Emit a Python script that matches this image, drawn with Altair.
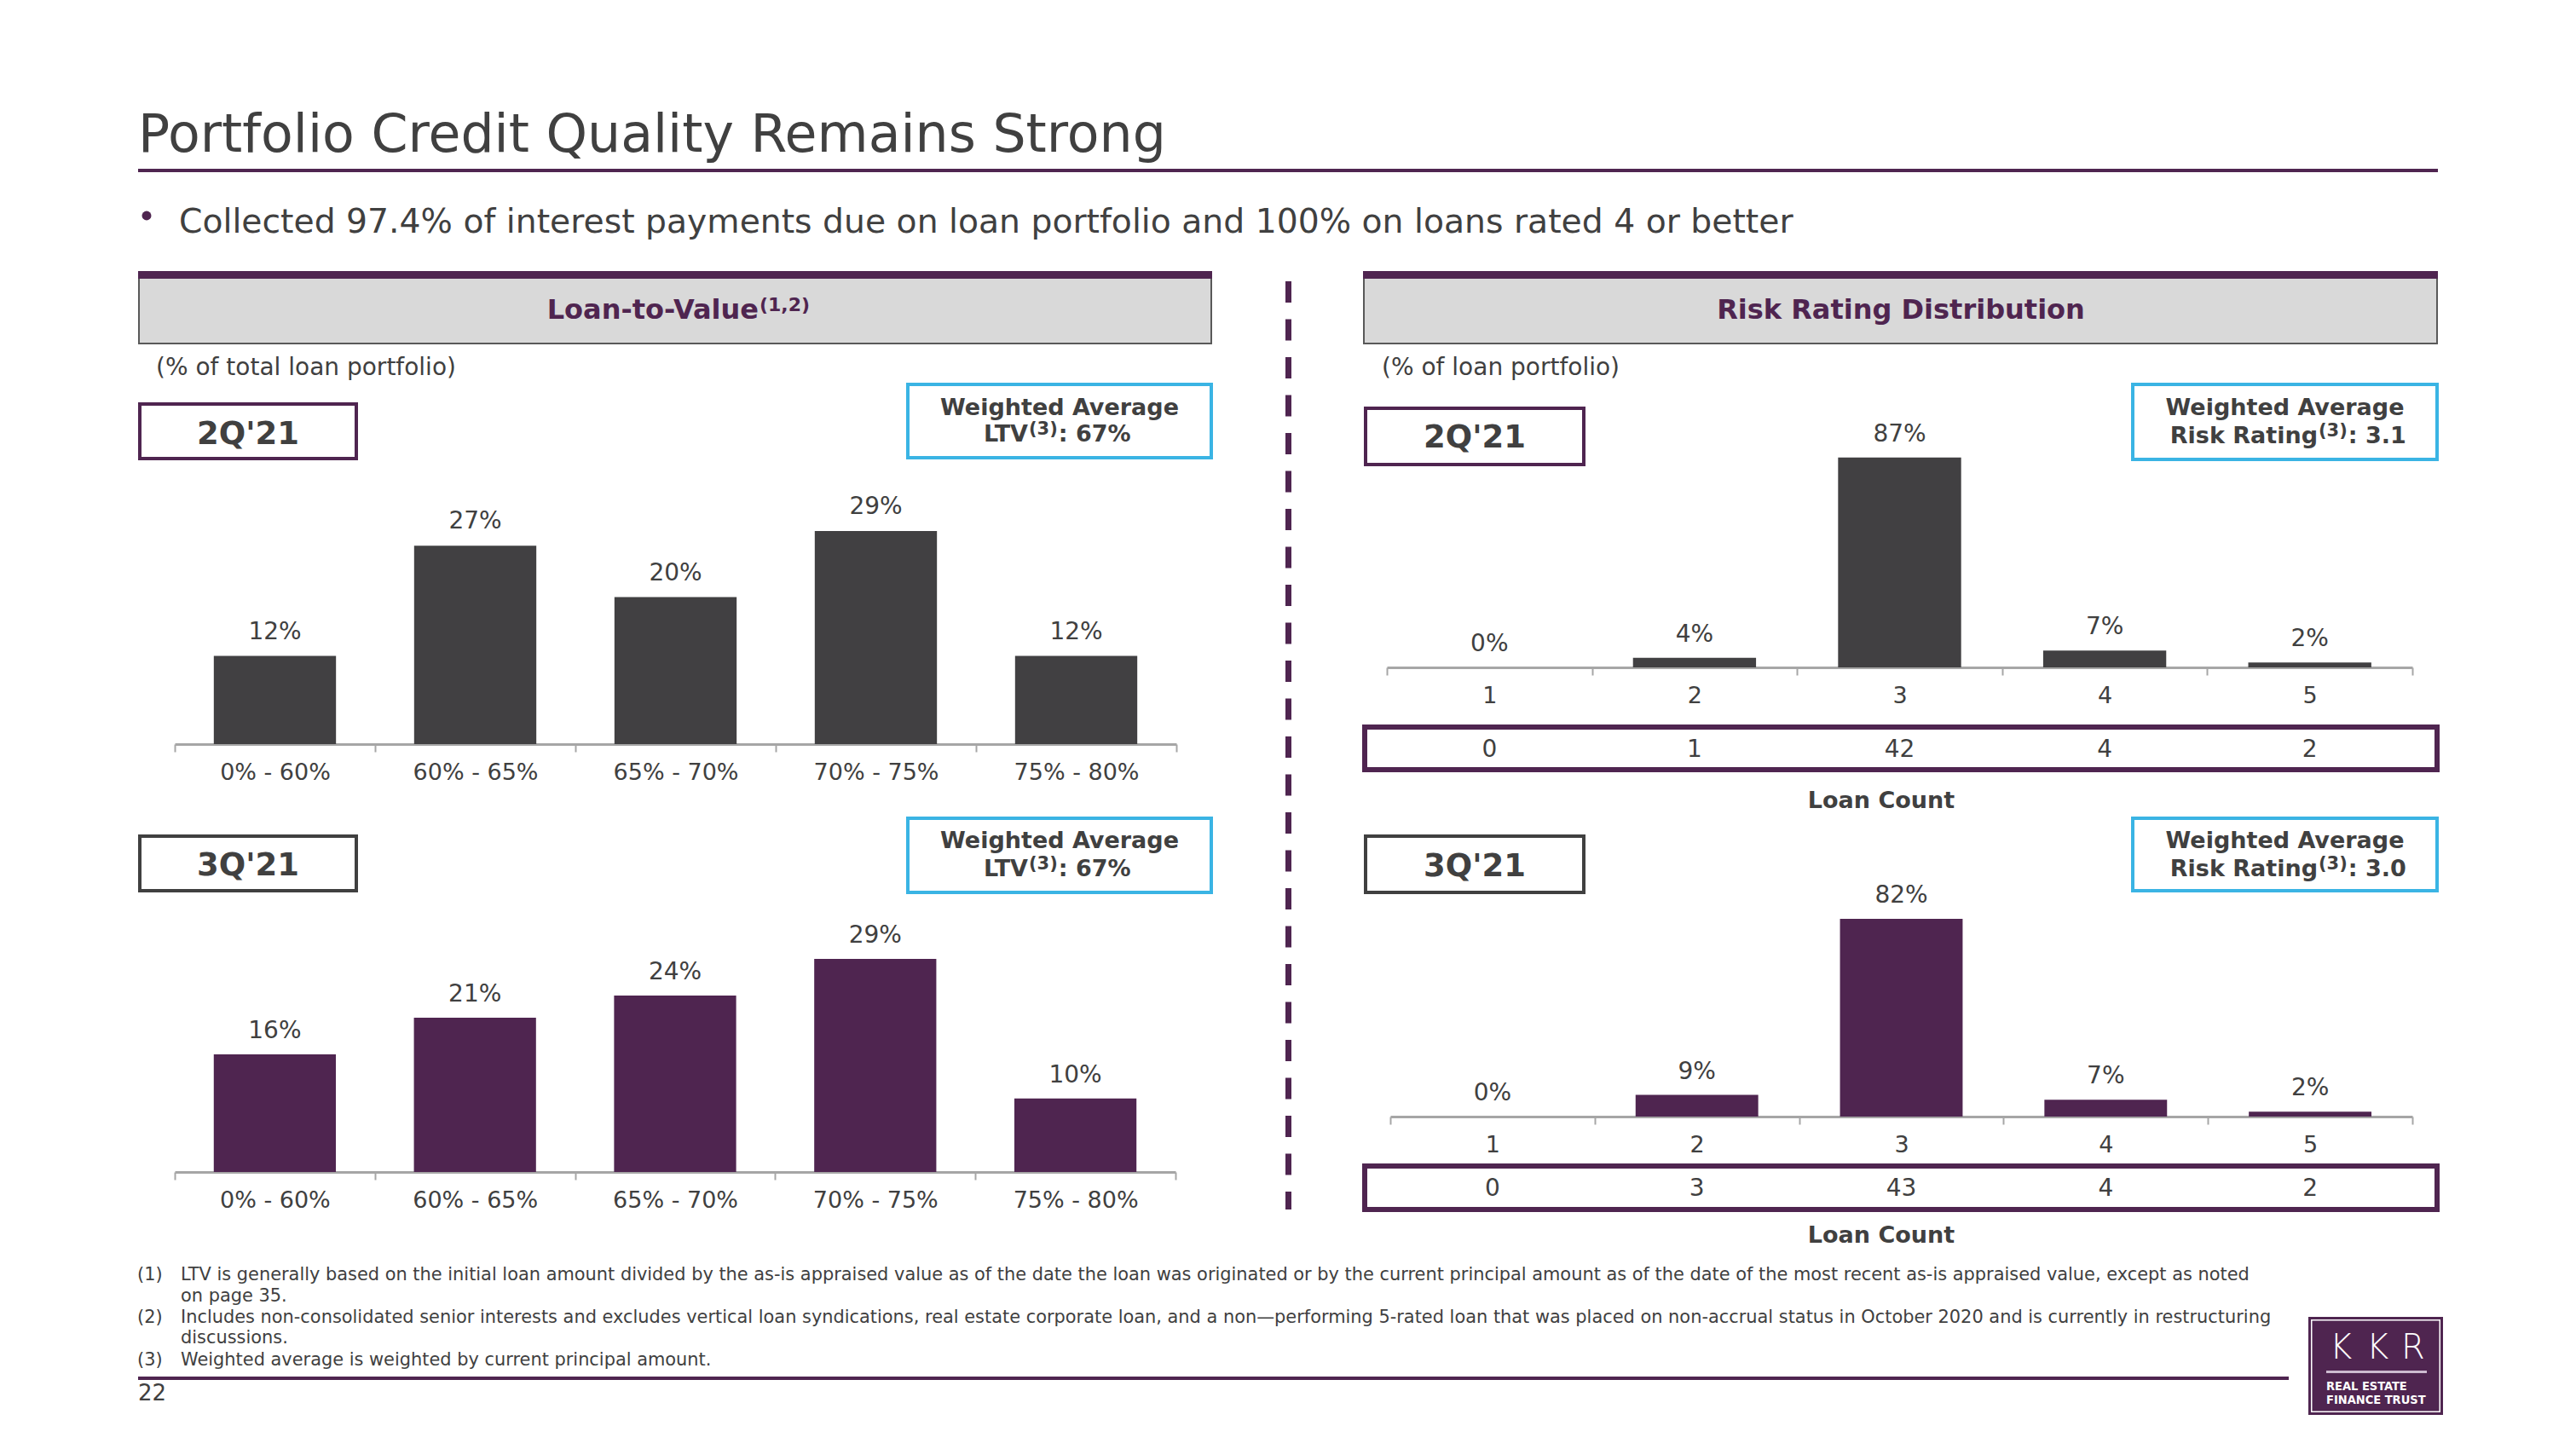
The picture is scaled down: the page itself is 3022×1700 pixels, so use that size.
import altair as alt
import pandas as pd

# ---------------- data ----------------
ltv_bins = ["0% - 60%", "60% - 65%", "65% - 70%", "70% - 75%", "75% - 80%"]
ltv_2q21 = [12, 27, 20, 29, 12]
ltv_3q21 = [16, 21, 24, 29, 10]
risk_ratings = ["1", "2", "3", "4", "5"]
risk_2q21 = [0, 4, 87, 7, 2]
risk_3q21 = [0, 9, 82, 7, 2]
loan_count_2q21 = [0, 1, 42, 4, 2]
loan_count_3q21 = [0, 3, 43, 4, 2]

title_text = "Portfolio Credit Quality Remains Strong"
bullet_text = "Collected 97.4% of interest payments due on loan portfolio and 100% on loans rated 4 or better"
footnotes = [
    ("(1)", "LTV is generally based on the initial loan amount divided by the as-is appraised value as of the date the loan was originated or by the current principal amount as of the date of the most recent as-is appraised value, except as noted"),
    ("", "on page 35."),
    ("(2)", "Includes non-consolidated senior interests and excludes vertical loan syndications, real estate corporate loan, and a non\u2014performing 5-rated loan that was placed on non-accrual status in October 2020 and is currently in restructuring"),
    ("", "discussions."),
    ("(3)", "Weighted average is weighted by current principal amount."),
]

# ---------------- layout / style ----------------
W, H = 3006, 1684
M = 8
PURPLE = "#4F2550"
DARK = "#404040"
BAR_DARK = "#414042"
CYAN = "#3AB4E4"
AXIS = "#A6A6A6"
HEADER_FILL = "#D9D9D9"
FONT = "DejaVu Sans"

one = pd.DataFrame({"k": [0]})


def px(v):
    return v - M


def rect(x1, y1, x2, y2, fill=None, stroke=None, sw=0):
    if stroke is not None:
        h = sw / 2
        x1, y1, x2, y2 = x1 + h, y1 + h, x2 - h, y2 - h
    kw = {}
    if fill is not None:
        kw["fill"] = fill
    else:
        kw["fillOpacity"] = 0
    if stroke is not None:
        kw["stroke"] = stroke
        kw["strokeWidth"] = sw
    return alt.Chart(one).mark_rect(**kw).encode(
        x=alt.value(px(x1)), x2=alt.value(px(x2)),
        y=alt.value(px(y1)), y2=alt.value(px(y2)))


def text(s, x, y, size, color=DARK, weight="normal", align="left", font=FONT):
    return alt.Chart(one).mark_text(
        text=s, fontSize=size, font=font, fontWeight=weight, color=color,
        align=align, baseline="alphabetic").encode(
        x=alt.value(px(x)), y=alt.value(px(y)))


def panel(cats, vals, counts, color, x0, x1, base_y, ppu, dmax, dy, bar_frac, count_y=None):
    df = pd.DataFrame({"cat": cats, "v": vals})
    if counts is not None:
        df["n"] = counts
    xenc = alt.X("cat:N", sort=cats, title=None,
                 scale=alt.Scale(range=[px(x0), px(x1)], paddingInner=0, paddingOuter=0),
                 axis=alt.Axis(orient="bottom", offset=px(base_y) - H, tickBand="extent",
                               domainColor=AXIS, domainWidth=3, tickColor=AXIS, tickWidth=2,
                               tickSize=9, labelFont=FONT, labelFontSize=27, labelColor=DARK,
                               labelPadding=32, labelBaseline="alphabetic", labelAngle=0,
                               grid=False))
    yenc = alt.Y("v:Q", title=None, axis=None,
                 scale=alt.Scale(domain=[0, dmax], range=[px(base_y), px(base_y) - dmax * ppu],
                                 nice=False, zero=True))
    base = alt.Chart(df)
    bars = base.mark_bar(color=color, width={"band": bar_frac}).encode(x=xenc, y=yenc)
    labels = base.transform_calculate(lbl="datum.v + '%'").mark_text(
        font=FONT, fontSize=28, color=DARK, dy=dy, baseline="alphabetic").encode(
        x=xenc, y=yenc, text="lbl:N")
    parts = [bars, labels]
    if count_y is not None:
        parts.append(base.mark_text(font=FONT, fontSize=28, color=DARK, baseline="alphabetic").encode(
            x=xenc, y=alt.value(px(count_y)), text="n:Q"))
    return alt.layer(*parts)


layers = []

# title + bullet
layers.append(text(title_text, 162, 178, 61.7))
layers.append(rect(162, 198, 2860, 202, fill=PURPLE))
layers.append(alt.Chart(one).mark_circle(size=120, color=PURPLE, opacity=1).encode(
    x=alt.value(px(172)), y=alt.value(px(253))))
layers.append(text(bullet_text, 210, 273, 39.3))

# section headers
for (a, b) in [(162, 1422), (1599, 2860)]:
    layers.append(rect(a, 320, b, 404, fill=HEADER_FILL, stroke="#595959", sw=2))
    layers.append(rect(a, 318, b, 327, fill=PURPLE))
layers.append(text("Loan-to-Value", 890, 374, 32, color=PURPLE, weight="bold", align="right"))
layers.append(text("(1,2)", 891, 365, 22, color=PURPLE, weight="bold"))
layers.append(text("Risk Rating Distribution", 2230, 374, 32, color=PURPLE, weight="bold", align="center"))
layers.append(text("(% of total loan portfolio)", 183, 440, 28))
layers.append(text("(% of loan portfolio)", 1621, 440, 28))

# period boxes
layers.append(rect(162, 472, 420, 540, stroke=PURPLE, sw=4))
layers.append(text("2Q'21", 291, 521, 37, weight="bold", align="center"))
layers.append(rect(1600, 477, 1860, 547, stroke=PURPLE, sw=4))
layers.append(text("2Q'21", 1730, 525, 37, weight="bold", align="center"))
layers.append(rect(162, 979, 420, 1047, stroke=DARK, sw=4))
layers.append(text("3Q'21", 291, 1027, 37, weight="bold", align="center"))
layers.append(rect(1600, 979, 1860, 1049, stroke=DARK, sw=4))
layers.append(text("3Q'21", 1730, 1028, 37, weight="bold", align="center"))

# weighted average boxes
SUP = 21


def wbox(x1, y1, x2, y2, b1, b2, label, jx, value):
    vx = jx + 2 + 1.61 * SUP
    return [rect(x1, y1, x2, y2, stroke=CYAN, sw=4),
            text("Weighted Average", (x1 + x2) / 2, b1, 27, weight="bold", align="center"),
            text(label, jx, b2, 27, weight="bold", align="right"),
            text("(3)", jx + 1, b2 - 8, SUP, weight="bold"),
            text(value, vx, b2, 27, weight="bold")]


layers += wbox(1063, 449, 1423, 539, 487, 518, "LTV", 1206, ": 67%")
layers += wbox(1063, 958, 1423, 1049, 995, 1028, "LTV", 1206, ": 67%")
layers += wbox(2500, 449, 2861, 541, 487, 520, "Risk Rating", 2719, ": 3.1")
layers += wbox(2500, 958, 2861, 1047, 995, 1028, "Risk Rating", 2719, ": 3.0")

# loan count boxes
layers.append(rect(1598, 850, 2862, 906, stroke=PURPLE, sw=6))
layers.append(text("Loan Count", 2207, 948, 27, weight="bold", align="center"))
layers.append(rect(1598, 1365, 2862, 1422, stroke=PURPLE, sw=6))
layers.append(text("Loan Count", 2207, 1458, 27, weight="bold", align="center"))

# dashed divider
layers.append(alt.Chart(one).mark_rule(stroke=PURPLE, strokeWidth=7, strokeDash=[25, 19.5]).encode(
    x=alt.value(px(1511.5)), y=alt.value(px(330)), y2=alt.value(px(1419))))

# footnotes
fy = [1502, 1527, 1552, 1576, 1602]
for (num, line), yb in zip(footnotes, fy):
    if num:
        layers.append(text(num, 161, yb, 20.9))
    layers.append(text(line, 212, yb, 20.9))
layers.append(rect(162, 1615, 2685, 1619, fill=PURPLE))
layers.append(text("22", 162, 1643, 26))

# logo
layers.append(rect(2708, 1545, 2866, 1660, fill=PURPLE))
layers.append(rect(2711, 1548, 2863, 1657, stroke="white", sw=1.5))
for ch, cx in zip("KKR", [2746, 2789, 2831]):
    layers.append(text(ch, cx, 1594, 40, color="white", weight=300, align="center"))
layers.append(rect(2729, 1608, 2847, 1611, fill="#CDBBD0"))
layers.append(text("REAL ESTATE", 2729, 1631, 14.5, color="white", weight="bold",
                   font="DejaVu Sans Condensed, DejaVu Sans"))
layers.append(text("FINANCE TRUST", 2729, 1647, 14.5, color="white", weight="bold",
                   font="DejaVu Sans Condensed, DejaVu Sans"))

# bar panels
layers.append(panel(ltv_bins, ltv_2q21, None, BAR_DARK, 205, 1380, 873, 8.62, 30, -20, 0.61))
layers.append(panel(ltv_bins, ltv_3q21, None, PURPLE, 205, 1379, 1375, 8.62, 30, -19, 0.61))
layers.append(panel(risk_ratings, risk_2q21, loan_count_2q21, BAR_DARK, 1627, 2830, 783, 2.83, 100, -19, 0.60, count_y=888))
layers.append(panel(risk_ratings, risk_3q21, loan_count_3q21, PURPLE, 1631, 2830, 1310, 2.83, 100, -19, 0.60, count_y=1403))

chart = alt.layer(*layers).resolve_scale(x="independent", y="independent").properties(
    width=W, height=H, padding=0, background="white",
    autosize=alt.AutoSizeParams(type="none")
).configure_view(stroke=None)

chart.save("out.html", embed_options={"renderer": "svg", "actions": False})
